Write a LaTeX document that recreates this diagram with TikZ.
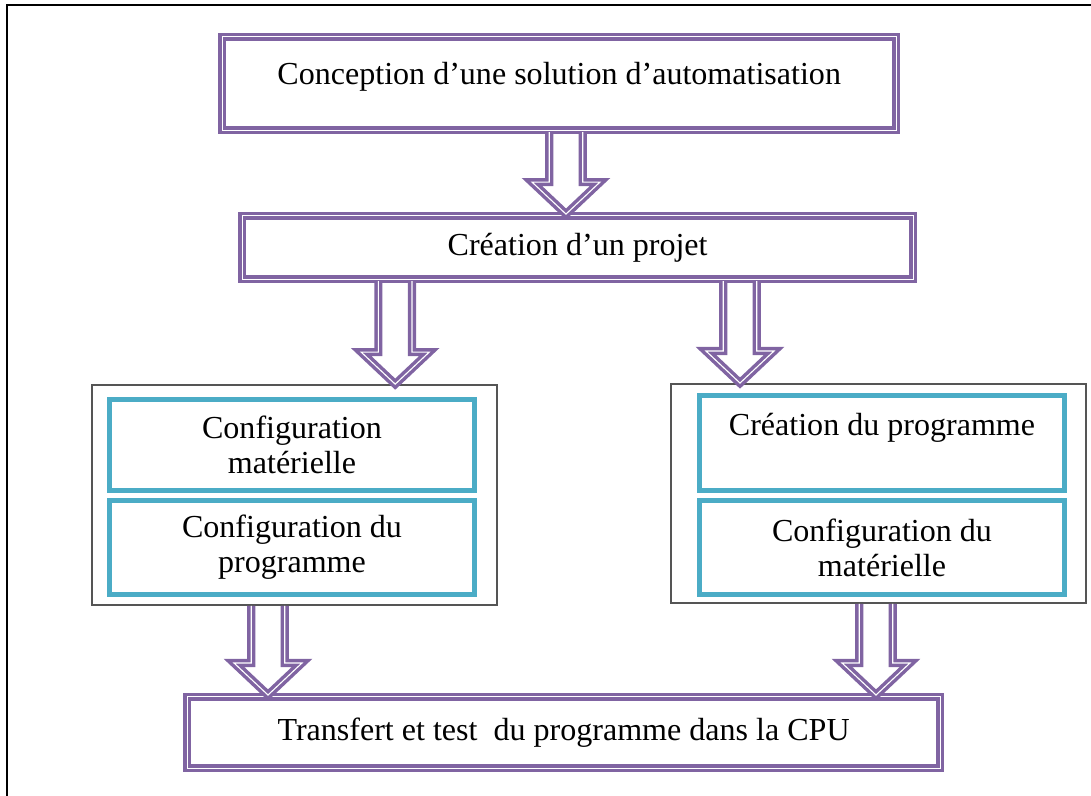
\documentclass[tikz,border=0pt]{standalone}
\usepackage{fontspec}
\setmainfont{Liberation Serif}
\usetikzlibrary{calc}

% hollow block arrow, from the first point straight down to the level of the second
\newcommand{\hollowarrow}[2]{%
  \draw[blockarrow] let \p1=(#1), \p2=(#2) in
    (\x1-0.42cm,\y1) -- (\x1-0.42cm,\y2+0.8cm) -- (\x1-0.85cm,\y2+0.8cm) -- (\x1,\y2)
    -- (\x1+0.85cm,\y2+0.8cm) -- (\x1+0.42cm,\y2+0.8cm) -- (\x1+0.42cm,\y1);}

\begin{document}
\begin{tikzpicture}[
  font=\fontsize{22.8}{25}\selectfont,
  stepbox/.style={shape=rectangle,draw=flowpurple,line width=2.7pt,double=white,double distance=0.7pt,fill=white,align=center},
  groupbox/.style={shape=rectangle,draw=groupgray,line width=1.2pt},
  taskbox/.style={shape=rectangle,draw=flowcyan,line width=3.6pt,fill=white,align=center,minimum width=9.13cm},
  blockarrow/.style={draw=flowpurple,line width=2.5pt,double=white,double distance=0.8pt,line join=miter}]
\definecolor{flowpurple}{RGB}{128,100,162}
\definecolor{flowcyan}{RGB}{75,172,198}
\definecolor{groupgray}{RGB}{85,85,85}
\useasboundingbox (0,0) rectangle (27.275,19.9);
\draw[line width=1.4pt] (0.175,0) -- (0.175,19.775) -- (27.275,19.775);
\node[stepbox,minimum width=16.85cm,minimum height=2.33cm,text depth=15pt] (conc) at (13.98,17.81) {Conception d’une solution d’automatisation};
\node[stepbox,minimum width=16.78cm,minimum height=1.58cm] (proj) at (14.44,13.71) {Création d’un projet};
\node[groupbox,minimum width=10.13cm,minimum height=5.5cm] (lgroup) at (7.36,7.525) {};
\node[groupbox,minimum width=10.38cm,minimum height=5.48cm] (rgroup) at (21.96,7.5625) {};
\node[taskbox,minimum height=2.28cm] (lhw) at (7.3,8.775) {Configuration\\matérielle};
\node[taskbox,minimum height=2.35cm] (lprog) at (7.3,6.2125) {Configuration du\\programme};
\node[taskbox,minimum height=2.38cm,text depth=26pt] (rprog) at (22.05,8.825) {Création du programme};
\node[taskbox,minimum height=2.35cm] (rhw) at (22.05,6.2125) {Configuration du\\matérielle};
\node[stepbox,minimum width=18.83cm,minimum height=1.78cm] (cpu) at (14.09,1.5875) {Transfert et test\ \ du programme dans la CPU};
\hollowarrow{[xshift=0.17cm]conc.south}{proj.north}
\hollowarrow{[xshift=-4.56cm]proj.south}{lgroup.north}
\hollowarrow{[xshift=4.06cm]proj.south}{rgroup.north}
\hollowarrow{[xshift=-0.66cm]lgroup.south}{cpu.north}
\hollowarrow{[xshift=-0.06cm]rgroup.south}{cpu.north}
\end{tikzpicture}
\end{document}
